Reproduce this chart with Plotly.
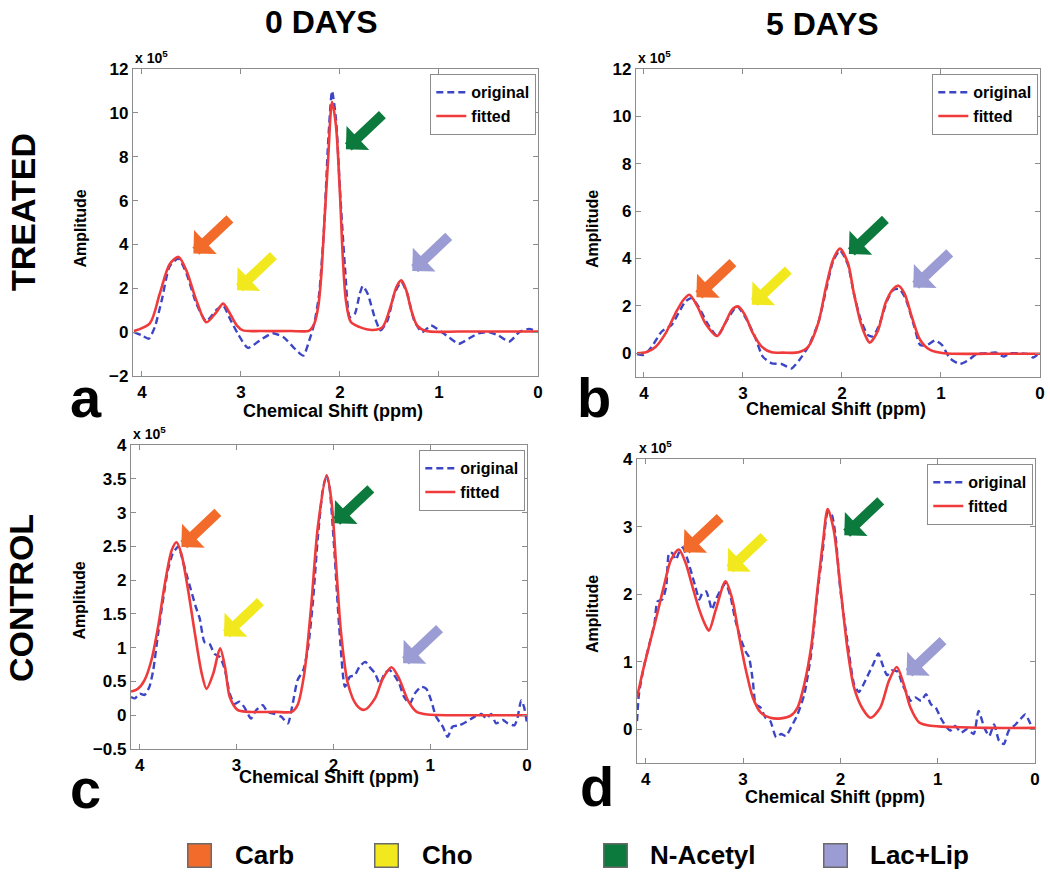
import plotly.graph_objects as go

W, H = 1050, 877

# ---------------- data (ppm, amplitude in units of 1e5) ----------------
# Panel a : treated, 0 days
a_fit_x = [4.08, 3.92, 3.82, 3.72, 3.63, 3.55, 3.45, 3.35, 3.25, 3.18, 3.11, 3.04, 2.98, 2.80, 2.50, 2.31, 2.26,
           2.22, 2.19, 2.16, 2.12, 2.08, 2.04, 2.00, 1.97, 1.94, 1.89, 1.80, 1.67, 1.57, 1.48, 1.43, 1.38, 1.33,
           1.28, 1.22, 1.13, 0.80, 0.40, 0.00]
a_fit_y = [0.05, 0.40, 1.75, 3.10, 3.43, 2.80, 1.45, 0.45, 0.90, 1.30, 0.84, 0.30, 0.08, 0.05, 0.05, 0.07, 0.38,
           1.15, 2.50, 4.80, 7.85, 10.5, 9.40, 6.30, 3.30, 1.45, 0.46, 0.23, 0.10, 0.23, 1.30, 2.06, 2.36, 1.90,
           1.00, 0.30, 0.05, 0.03, 0.03, 0.03]
a_orig_x = [4.08, 4.00, 3.93, 3.87, 3.80, 3.72, 3.63, 3.55, 3.45, 3.35, 3.25, 3.18, 3.11, 3.03, 2.93, 2.81, 2.68,
            2.57, 2.47, 2.37, 2.31, 2.26, 2.21, 2.16, 2.12, 2.08, 2.04, 2.00, 1.95, 1.90, 1.85, 1.80, 1.77, 1.72,
            1.65, 1.59, 1.52, 1.45, 1.38, 1.32, 1.25, 1.17, 1.08, 1.02, 0.90, 0.80, 0.70, 0.60, 0.50, 0.40, 0.29,
            0.19, 0.09, 0.00]
a_orig_y = [0.00, -0.15, -0.30, 0.23, 1.45, 3.00, 3.36, 2.67, 1.30, 0.50, 1.00, 1.22, 0.60, -0.08, -0.72, -0.38,
            -0.05, -0.23, -0.69, -1.07, -0.38, 0.38, 1.75, 4.80, 8.60, 11.0, 9.70, 6.50, 3.00, 0.69, 0.84, 1.75,
            2.10, 1.75, 0.69, 0.08, 0.53, 1.75, 2.29, 1.75, 0.53, 0.00, 0.30, 0.15, -0.23, -0.53, -0.30, -0.05,
            0.00, -0.15, -0.43, 0.00, 0.15, 0.00]

# Panel b : treated, 5 days
b_fit_x = [4.07, 3.98, 3.88, 3.78, 3.68, 3.60, 3.54, 3.46, 3.38, 3.26, 3.18, 3.11, 3.05, 2.98, 2.90, 2.81, 2.71,
           2.60, 2.44, 2.34, 2.24, 2.16, 2.09, 2.02, 1.94, 1.88, 1.81, 1.76, 1.72, 1.64, 1.56, 1.49, 1.43, 1.37,
           1.29, 1.21, 1.11, 0.97, 0.50, 0.00]
b_fit_y = [0.00, 0.04, 0.28, 0.85, 1.70, 2.26, 2.47, 1.98, 1.27, 0.73, 1.27, 1.84, 1.98, 1.62, 0.85, 0.28, 0.04,
           0.03, 0.04, 0.28, 1.27, 2.82, 3.95, 4.42, 3.81, 2.54, 1.27, 0.71, 0.45, 0.92, 2.12, 2.68, 2.85, 2.54,
           1.48, 0.56, 0.14, 0.00, -0.02, -0.02]
b_orig_x = [4.07, 4.00, 3.92, 3.82, 3.72, 3.65, 3.58, 3.52, 3.45, 3.36, 3.26, 3.16, 3.06, 2.98, 2.88, 2.80, 2.71,
            2.61, 2.51, 2.43, 2.34, 2.24, 2.16, 2.09, 2.02, 1.94, 1.88, 1.81, 1.74, 1.69, 1.63, 1.54, 1.48, 1.42,
            1.36, 1.27, 1.21, 1.14, 1.06, 0.99, 0.91, 0.81, 0.72, 0.64, 0.54, 0.44, 0.37, 0.30, 0.20, 0.12, 0.07,
            0.00]
b_orig_y = [-0.03, -0.07, 0.28, 0.92, 1.20, 1.70, 2.19, 2.33, 1.98, 1.27, 0.73, 1.41, 1.98, 1.55, 0.71, -0.14,
            -0.42, -0.45, -0.64, -0.28, 0.28, 1.27, 2.68, 3.88, 4.35, 3.74, 2.54, 1.41, 0.78, 0.71, 1.13, 2.26,
            2.68, 2.71, 2.33, 1.13, 0.35, 0.35, 0.54, 0.35, -0.21, -0.45, -0.28, -0.03, 0.00, 0.03, -0.14, 0.00,
            0.00, -0.03, -0.18, 0.03]

# Panel c : control, 0 days
c_fit_x = [4.09, 4.02, 3.95, 3.88, 3.81, 3.74, 3.67, 3.62, 3.57, 3.50, 3.43, 3.36, 3.31, 3.24, 3.17, 3.12, 3.07,
           2.99, 2.88, 2.60, 2.43, 2.37, 2.30, 2.23, 2.16, 2.07, 2.02, 1.97, 1.92, 1.85, 1.76, 1.68, 1.57, 1.49,
           1.40, 1.32, 1.23, 1.14, 1.02, 0.50, 0.00]
c_fit_y = [0.35, 0.39, 0.52, 0.81, 1.31, 1.95, 2.44, 2.56, 2.39, 1.85, 1.21, 0.62, 0.39, 0.62, 0.99, 0.72, 0.27,
           0.08, 0.05, 0.05, 0.05, 0.15, 0.62, 1.60, 2.79, 3.55, 3.18, 2.19, 1.21, 0.47, 0.15, 0.08, 0.25, 0.54,
           0.71, 0.54, 0.22, 0.05, 0.01, 0.00, 0.00]
c_orig_x = [4.09, 4.05, 4.00, 3.95, 3.90, 3.86, 3.81, 3.76, 3.71, 3.66, 3.60, 3.57, 3.52, 3.47, 3.42, 3.38, 3.33,
            3.28, 3.23, 3.17, 3.12, 3.07, 3.02, 2.97, 2.92, 2.85, 2.80, 2.73, 2.68, 2.61, 2.54, 2.47, 2.42, 2.37,
            2.31, 2.26, 2.21, 2.16, 2.11, 2.07, 2.04, 1.99, 1.94, 1.88, 1.83, 1.78, 1.73, 1.67, 1.63, 1.57, 1.52,
            1.47, 1.42, 1.37, 1.32, 1.27, 1.21, 1.16, 1.09, 1.04, 0.99, 0.94, 0.87, 0.82, 0.77, 0.70, 0.63, 0.54,
            0.47, 0.42, 0.37, 0.32, 0.25, 0.20, 0.13, 0.10, 0.06, 0.03, 0.00]
c_orig_y = [0.27, 0.25, 0.32, 0.30, 0.42, 0.67, 1.21, 1.70, 2.14, 2.39, 2.50, 2.37, 2.10, 1.85, 1.60, 1.43, 1.08,
            1.06, 0.91, 0.86, 0.67, 0.32, 0.17, 0.20, 0.12, -0.05, 0.07, 0.15, 0.05, 0.02, -0.02, -0.12, 0.17,
            0.52, 0.67, 1.01, 1.70, 2.64, 3.33, 3.55, 3.38, 2.44, 1.31, 0.42, 0.57, 0.59, 0.72, 0.79, 0.72, 0.62,
            0.47, 0.62, 0.67, 0.59, 0.47, 0.27, 0.17, 0.32, 0.42, 0.39, 0.22, -0.02, -0.17, -0.32, -0.17, -0.15,
            -0.10, -0.02, 0.02, -0.05, 0.02, -0.12, -0.07, -0.12, -0.15, -0.05, 0.22, 0.12, -0.12]

# Panel d : control, 5 days
d_fit_x = [4.09, 4.02, 3.95, 3.88, 3.81, 3.74, 3.66, 3.59, 3.52, 3.45, 3.38, 3.35, 3.28, 3.18, 3.11, 3.04, 2.97,
           2.90, 2.82, 2.72, 2.61, 2.51, 2.44, 2.37, 2.30, 2.24, 2.18, 2.13, 2.07, 2.00, 1.93, 1.86, 1.77, 1.69,
           1.59, 1.50, 1.42, 1.35, 1.28, 1.19, 1.07, 0.50, 0.00]
d_fit_y = [0.47, 0.92, 1.32, 1.72, 2.14, 2.51, 2.66, 2.46, 2.11, 1.77, 1.52, 1.46, 1.77, 2.19, 1.92, 1.37, 0.87,
           0.47, 0.25, 0.17, 0.16, 0.20, 0.32, 0.67, 1.22, 2.01, 2.76, 3.26, 2.96, 2.11, 1.22, 0.62, 0.30, 0.17,
           0.32, 0.72, 0.92, 0.67, 0.32, 0.10, 0.05, 0.02, 0.02]
d_orig_x = [4.09, 4.07, 4.02, 3.97, 3.91, 3.88, 3.83, 3.79, 3.76, 3.73, 3.69, 3.66, 3.62, 3.57, 3.52, 3.49, 3.45,
            3.42, 3.38, 3.35, 3.32, 3.28, 3.23, 3.18, 3.13, 3.08, 3.02, 2.97, 2.94, 2.90, 2.87, 2.82, 2.77, 2.72,
            2.66, 2.61, 2.56, 2.51, 2.44, 2.37, 2.30, 2.24, 2.18, 2.13, 2.09, 2.05, 2.00, 1.93, 1.86, 1.81, 1.76,
            1.71, 1.66, 1.61, 1.57, 1.52, 1.47, 1.41, 1.36, 1.31, 1.28, 1.23, 1.17, 1.12, 1.07, 1.02, 0.97, 0.92,
            0.87, 0.82, 0.76, 0.70, 0.63, 0.58, 0.52, 0.47, 0.42, 0.37, 0.32, 0.27, 0.20, 0.15, 0.10, 0.06, 0.03]
d_orig_y = [0.12, 0.52, 0.92, 1.22, 1.57, 1.89, 1.92, 2.11, 2.61, 2.61, 2.51, 2.61, 2.69, 2.51, 2.26, 2.11, 1.92,
            2.01, 2.04, 1.92, 1.77, 1.92, 2.06, 2.16, 1.97, 1.62, 1.32, 1.14, 1.07, 0.72, 0.37, 0.32, 0.17, 0.12,
            -0.12, -0.07, -0.10, 0.02, 0.22, 0.52, 1.12, 1.97, 2.66, 3.21, 3.18, 2.86, 2.06, 1.32, 0.67, 0.55,
            0.67, 0.82, 0.97, 1.12, 0.97, 0.80, 0.87, 0.85, 0.65, 0.52, 0.42, 0.47, 0.42, 0.52, 0.37, 0.32, 0.17,
            0.05, -0.02, 0.05, -0.05, 0.00, -0.07, 0.27, 0.02, -0.10, 0.07, -0.17, -0.22, -0.02, 0.07, 0.15, 0.22,
            0.12, 0.02]

# metabolite arrows: tip positions (ppm, amplitude), order Carb, Cho, N-Acetyl, Lac+Lip
metabolites = ["Carb", "Cho", "N-Acetyl", "Lac+Lip"]
metab_colors = ["#f26b2a", "#f1e91e", "#0c7a3c", "#9c9cd4"]
a_arrow_x = [3.48, 3.04, 1.94, 1.27]
a_arrow_y = [3.59, 1.91, 8.34, 2.79]
b_arrow_x = [3.47, 2.91, 1.93, 1.28]
b_arrow_y = [2.37, 2.05, 4.19, 2.78]
c_arrow_x = [3.57, 3.13, 1.99, 1.28]
c_arrow_y = [2.49, 1.17, 2.84, 0.77]
d_arrow_x = [3.61, 3.16, 1.96, 1.32]
d_arrow_y = [2.62, 2.34, 2.87, 0.80]

column_titles = ["0 DAYS", "5 DAYS"]
row_titles = ["TREATED", "CONTROL"]
panel_letters = ["a", "b", "c", "d"]

# ---------------- styling / layout ----------------
FONT = "Liberation Sans, Arial, Helvetica, sans-serif"
BLUE = "#3b45c6"
RED = "#ef3b3b"
FRAME = "#8c8c8c"


def px(x):
    """window pixel -> paper fraction"""
    return x / W


def py(y):
    return 1 - y / H


panels = [
    dict(box=(133, 69, 538, 376), xr=[4.09, 0], yr=[-2, 12], dt=2,
         fx=a_fit_x, fy=a_fit_y, ox=a_orig_x, oy=a_orig_y, ax_=a_arrow_x, ay_=a_arrow_y,
         amp=(79.5, 229), chem=(333, 411), letter=(86, 397), exp=(133, 68)),
    dict(box=(636, 69, 1040, 377), xr=[4.08, 0], yr=[-1, 12], dt=2,
         fx=b_fit_x, fy=b_fit_y, ox=b_orig_x, oy=b_orig_y, ax_=b_arrow_x, ay_=b_arrow_y,
         amp=(592, 229), chem=(836, 409), letter=(594, 397), exp=(636, 68)),
    dict(box=(131, 445, 527, 749), xr=[4.09, 0], yr=[-0.5, 4], dt=0.5,
         fx=c_fit_x, fy=c_fit_y, ox=c_orig_x, oy=c_orig_y, ax_=c_arrow_x, ay_=c_arrow_y,
         amp=(78.5, 601), chem=(329, 777), letter=(85, 788), exp=(131, 444)),
    dict(box=(637, 459, 1035, 763), xr=[4.09, 0], yr=[-0.5, 4], dt=1,
         fx=d_fit_x, fy=d_fit_y, ox=d_orig_x, oy=d_orig_y, ax_=d_arrow_x, ay_=d_arrow_y,
         amp=(592, 614), chem=(835, 797), letter=(597, 786), exp=(637, 458)),
]

fig = go.Figure()
annotations = []
layout_extra = {}

for i, p in enumerate(panels):
    n = "" if i == 0 else str(i + 1)
    xa, ya = "x" + n, "y" + n
    leg = "legend" + n
    l, t, r, b = p["box"]
    fig.add_trace(go.Scatter(x=p["ox"], y=p["oy"], xaxis=xa, yaxis=ya, mode="lines", name="original",
                             legend=leg, line=dict(color=BLUE, width=2.4, dash="7px,4px",
                                                   shape="spline", smoothing=0.6)))
    fig.add_trace(go.Scatter(x=p["fx"], y=p["fy"], xaxis=xa, yaxis=ya, mode="lines", name="fitted",
                             legend=leg, line=dict(color=RED, width=2.6, shape="spline", smoothing=0.8)))
    axis_common = dict(showline=True, linecolor=FRAME, linewidth=1.3, mirror="ticks", ticks="inside",
                       ticklen=5, tickcolor=FRAME, showgrid=False, zeroline=False, automargin=False,
                       ticklabeloverflow="allow",
                       tickfont=dict(family=FONT, size=17, color="black", weight="bold"))
    layout_extra["xaxis" + n] = dict(domain=[px(l), px(r)], anchor=ya, range=p["xr"], dtick=1, tick0=0,
                                     ticklabelstandoff=0, **axis_common)
    layout_extra["yaxis" + n] = dict(domain=[py(b), py(t)], anchor=xa, range=p["yr"], dtick=p["dt"],
                                     tick0=0, **axis_common)
    layout_extra[leg] = dict(x=px(r - 2), y=py(t + 5), xanchor="right", yanchor="top", xref="paper",
                             yref="paper", bgcolor="white", bordercolor=FRAME, borderwidth=1.3,
                             font=dict(family=FONT, size=16, color="black", weight="bold"),
                             itemwidth=30, tracegroupgap=0)
    # arrows pointing at the four metabolite peaks
    for k in range(4):
        annotations.append(dict(x=p["ax_"][k], y=p["ay_"][k], xref=xa, yref=ya, text="", showarrow=True,
                                ax=38, ay=-36, arrowhead=1, arrowwidth=10, arrowsize=0.55,
                                arrowcolor=metab_colors[k], standoff=0))
    # axis titles and labels
    annotations.append(dict(x=px(p["amp"][0]), y=py(p["amp"][1]), xref="paper", yref="paper",
                            xanchor="center", yanchor="middle",
                            text="Amplitude", textangle=-90, showarrow=False,
                            font=dict(family=FONT, size=16, color="black", weight="bold")))
    annotations.append(dict(x=px(p["chem"][0]), y=py(p["chem"][1]), xref="paper", yref="paper",
                            xanchor="center", yanchor="middle",
                            text="Chemical Shift (ppm)", showarrow=False,
                            font=dict(family=FONT, size=18, color="black", weight="bold")))
    annotations.append(dict(x=px(p["exp"][0]), y=py(p["exp"][1]), xref="paper", yref="paper",
                            xanchor="left", yanchor="bottom", text="x 10<sup>5</sup>", showarrow=False,
                            font=dict(family=FONT, size=14, color="black", weight="bold")))
    annotations.append(dict(x=px(p["letter"][0]), y=py(p["letter"][1]), xref="paper", yref="paper",
                            xanchor="center", yanchor="middle",
                            text=panel_letters[i], showarrow=False,
                            font=dict(family=FONT, size=56, color="black", weight="bold")))

# column and row titles
for txt, (cx, cy) in zip(column_titles, [(321, 22), (822, 24)]):
    annotations.append(dict(x=px(cx), y=py(cy), xref="paper", yref="paper", text=txt, showarrow=False,
                            xanchor="center", yanchor="middle",
                            font=dict(family=FONT, size=32, color="black", weight="bold")))
for txt, (cx, cy) in zip(row_titles, [(23, 212), (21, 598)]):
    annotations.append(dict(x=px(cx), y=py(cy), xref="paper", yref="paper", text=txt, textangle=-90,
                            xanchor="center", yanchor="middle",
                            showarrow=False, font=dict(family=FONT, size=34, color="black", weight="bold")))

# bottom key
key_sq_x = [199.5, 386, 615.5, 835.5]
key_tx_x = [233, 420, 648, 868]
for name, col, sx, tx in zip(metabolites, metab_colors, key_sq_x, key_tx_x):
    annotations.append(dict(x=px(sx), y=py(855), xref="paper", yref="paper", text="", showarrow=False,
                            xanchor="center", yanchor="middle",
                            width=20, height=20, bgcolor=col, bordercolor="#6a6a6a", borderwidth=1.5))
    annotations.append(dict(x=px(tx), y=py(855), xref="paper", yref="paper", text=name, xanchor="left",
                            yanchor="middle",
                            showarrow=False, font=dict(family=FONT, size=26, color="black", weight="bold")))

fig.update_layout(template="none", width=W, height=H, margin=dict(l=0, r=0, t=0, b=0, autoexpand=False),
                  paper_bgcolor="white", plot_bgcolor="white", showlegend=True, annotations=annotations,
                  **layout_extra)

# remove the default 8px page margin so the 1050x877 figure fills the window exactly
fig.write_html("out.html", config={"displayModeBar": False},
               post_script="document.body.style.margin='0px';")
